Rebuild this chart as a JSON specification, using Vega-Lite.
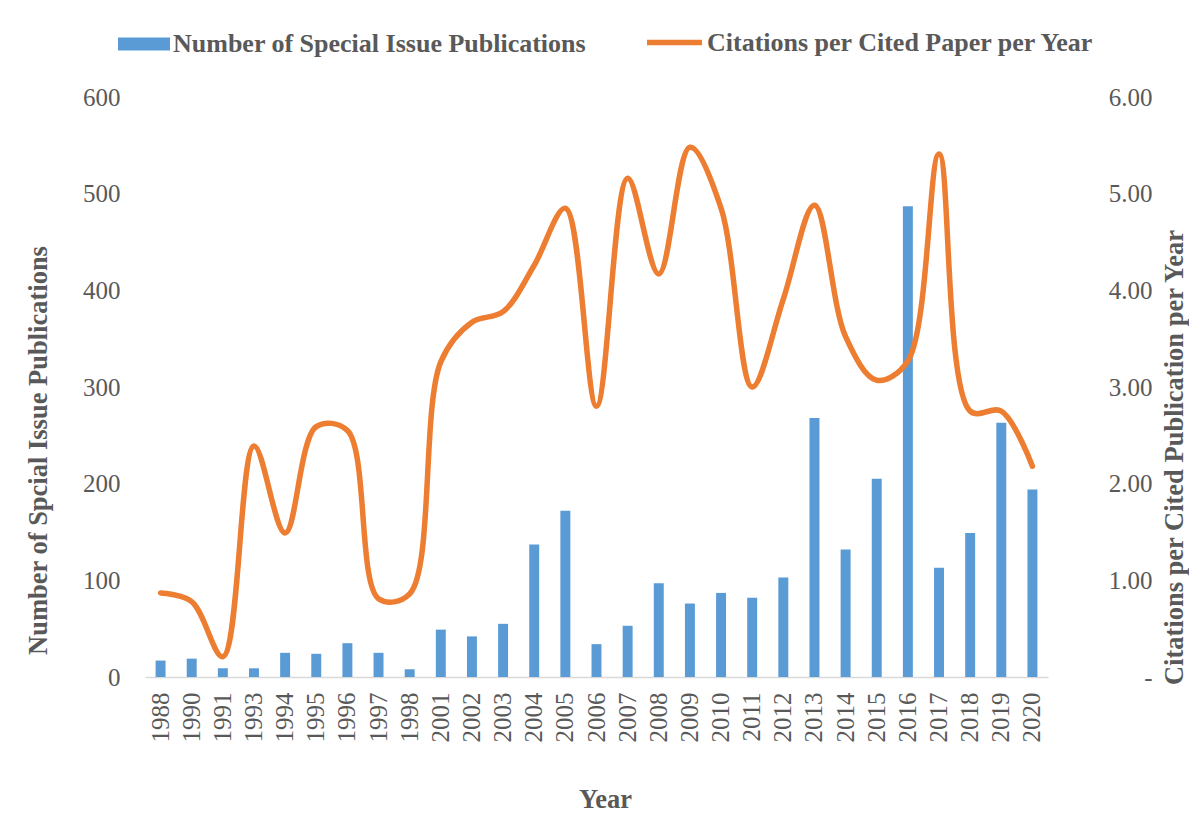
{
  "$schema": "https://vega.github.io/schema/vega-lite/v6.json",
  "width": 903,
  "height": 580,
  "autosize": {"type": "none"},
  "padding": {"left": 145, "top": 97, "right": 141, "bottom": 138},
  "background": "white",
  "config": {
    "view": {"stroke": null},
    "font": "Liberation Serif",
    "axis": {"grid": false, "ticks": false, "labelFont": "Liberation Serif", "labelFontSize": 25, "labelColor": "#595959", "titleFont": "Liberation Serif", "titleFontSize": 26.5, "titleFontWeight": "bold", "titleColor": "#595959"},
    "legend": {"labelFont": "Liberation Serif", "labelFontSize": 26, "labelFontWeight": "bold", "labelColor": "#595959", "padding": 0, "titlePadding": 0, "labelLimit": 0}
  },
  "data": {"values": [
    {"year": "1988", "pubs": 17, "cites": 0.87},
    {"year": "1990", "pubs": 19, "cites": 0.78},
    {"year": "1991", "pubs": 9, "cites": 0.21},
    {"year": "1993", "pubs": 9, "cites": 2.39},
    {"year": "1994", "pubs": 25, "cites": 1.49},
    {"year": "1995", "pubs": 24, "cites": 2.59},
    {"year": "1996", "pubs": 35, "cites": 2.55},
    {"year": "1997", "pubs": 25, "cites": 0.81},
    {"year": "1998", "pubs": 8, "cites": 0.86},
    {"year": "2001", "pubs": 49, "cites": 3.26},
    {"year": "2002", "pubs": 42, "cites": 3.67},
    {"year": "2003", "pubs": 55, "cites": 3.78},
    {"year": "2004", "pubs": 137, "cites": 4.26},
    {"year": "2005", "pubs": 172, "cites": 4.85},
    {"year": "2006", "pubs": 34, "cites": 2.8},
    {"year": "2007", "pubs": 53, "cites": 5.16},
    {"year": "2008", "pubs": 97, "cites": 4.17},
    {"year": "2009", "pubs": 76, "cites": 5.48},
    {"year": "2010", "pubs": 87, "cites": 4.85},
    {"year": "2011", "pubs": 82, "cites": 3.0},
    {"year": "2012", "pubs": 103, "cites": 3.91},
    {"year": "2013", "pubs": 268, "cites": 4.88},
    {"year": "2014", "pubs": 132, "cites": 3.52},
    {"year": "2015", "pubs": 205, "cites": 3.07},
    {"year": "2016", "pubs": 487, "cites": 3.27},
    {"year": "2017", "pubs": 113, "cites": 5.41},
    {"year": "2018", "pubs": 149, "cites": 2.75},
    {"year": "2019", "pubs": 263, "cites": 2.75},
    {"year": "2020", "pubs": 194, "cites": 2.18}
  ]},
  "encoding": {
    "x": {
      "field": "year", "type": "ordinal", "sort": null,
      "scale": {"paddingInner": 0.68, "paddingOuter": 0.34},
      "axis": {"title": "Year", "labelAngle": 270, "labelPadding": 15, "domainColor": "#D9D9D9", "domainWidth": 1.5, "titleX": 460, "titleY": 122, "titleBaseline": "middle", "titleAlign": "center"}
    }
  },
  "layer": [
    {
      "mark": {"type": "bar"},
      "encoding": {
        "y": {"field": "pubs", "type": "quantitative", "scale": {"domain": [0, 600]},
          "axis": {"title": "Number of Spcial Issue Publications", "values": [0, 100, 200, 300, 400, 500, 600], "labelPadding": 25, "domain": false, "titleAngle": 270, "titleX": -107, "titleY": 353, "titleBaseline": "middle", "titleAlign": "center"}},
        "fill": {"datum": "Number of Special Issue Publications", "type": "nominal",
          "scale": {"range": ["#5B9BD5"]},
          "legend": {"title": null, "orient": "none", "legendX": -28, "legendY": -80, "symbolType": "M-1,-0.25H1V0.25H-1Z", "symbolSize": 2704, "symbolOpacity": 1, "labelOffset": 2}}
      }
    },
    {
      "mark": {"type": "line", "interpolate": "catmull-rom", "strokeWidth": 5.5, "strokeCap": "round"},
      "encoding": {
        "y": {"field": "cites", "type": "quantitative", "scale": {"domain": [0, 6]},
          "axis": {"orient": "right", "title": "Citations per Cited Publication per Year", "values": [0, 1, 2, 3, 4, 5, 6], "labelExpr": "datum.value == 0 ? '-' : format(datum.value, '.2f')", "labelAlign": "right", "labelPadding": 104, "domain": false, "titleAngle": 270, "titleX": 126, "titleY": 360, "titleBaseline": "middle", "titleAlign": "center"}},
        "stroke": {"datum": "Citations per Cited Paper per Year", "type": "nominal",
          "scale": {"range": ["#ED7D31"]},
          "legend": {"title": null, "orient": "none", "legendX": 499, "legendY": -85, "symbolType": "M-1,0H1", "symbolSize": 3025, "symbolStrokeWidth": 5.5, "labelOffset": 2}}
      }
    }
  ],
  "resolve": {"scale": {"y": "independent"}, "axis": {"y": "independent"}}
}
